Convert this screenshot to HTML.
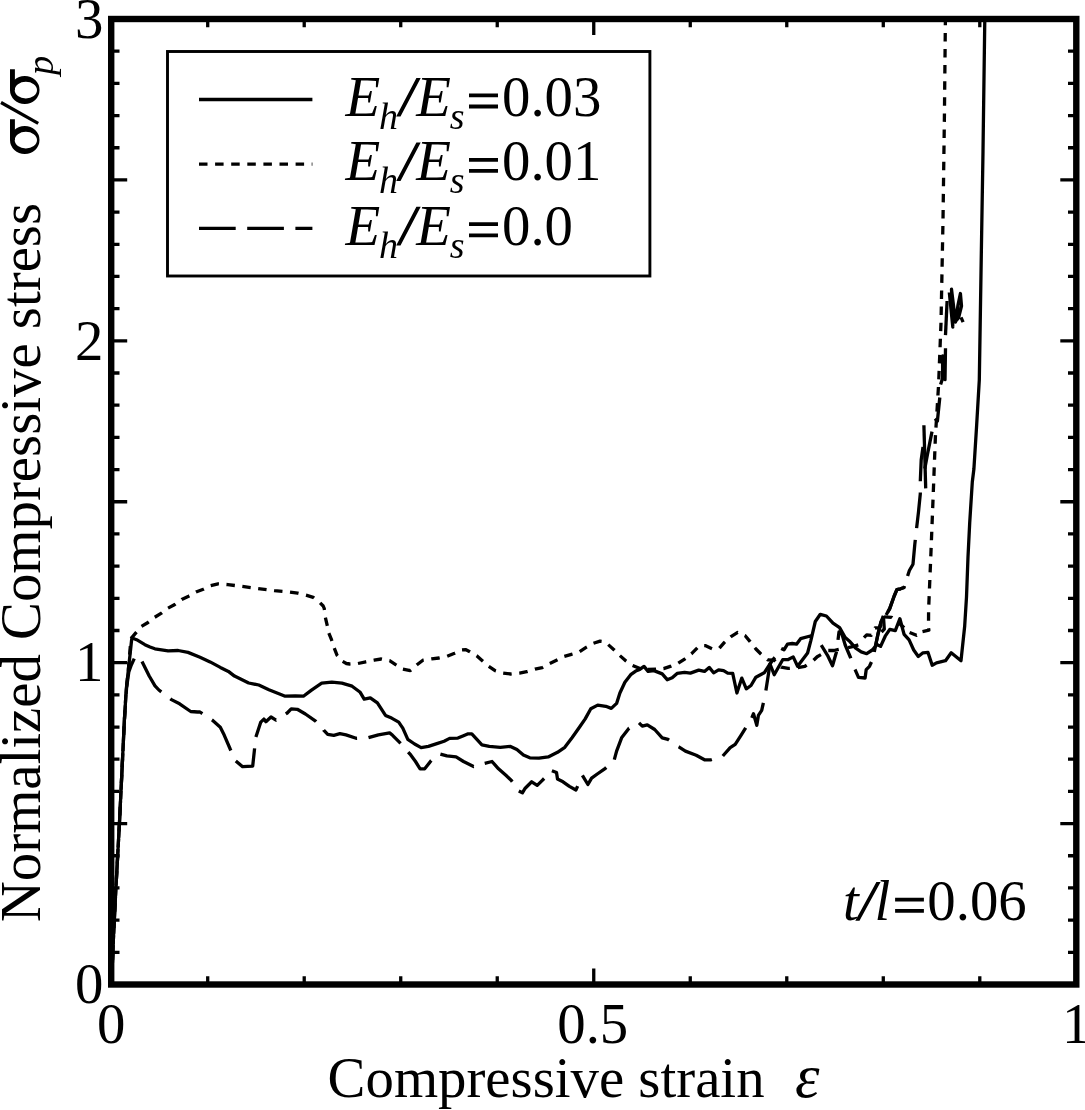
<!DOCTYPE html>
<html><head><meta charset="utf-8">
<style>
html,body{margin:0;padding:0;background:#fff;}
svg{display:block;will-change:transform;}
text{font-family:"Liberation Serif",serif;fill:#000;}
.i{font-style:italic;}
</style></head><body>
<svg width="1085" height="1110" viewBox="0 0 1085 1110">
<defs><clipPath id="c"><rect x="111.2" y="19.0" width="965.0999999999999" height="965.5"/></clipPath></defs>
<rect width="1085" height="1110" fill="#fff"/>
<g clip-path="url(#c)" fill="none" stroke="#000" stroke-width="3.3" stroke-linejoin="round">
<polyline points="111.5,984.5 113.4,939.0 115.8,890.0 119.5,822.0 124.4,720.0 126.2,690.0 128.4,669.5 130.0,655.0 131.6,640.0 132.0,638.0 136.6,639.7 144.9,644.7 150.0,647.0 154.9,648.8 168.1,650.8 178.1,650.5 188.0,652.4 200.0,657.2 210.1,661.9 220.3,667.4 228.4,671.4 234.5,676.1 248.7,683.0 258.8,685.0 268.9,689.7 285.2,696.2 295.3,695.8 303.4,696.2 311.5,690.1 321.7,683.2 331.8,682.2 341.9,683.2 352.1,686.2 360.2,692.3 364.2,699.2 370.3,697.8 377.4,702.9 385.5,715.4 391.6,718.1 398.7,722.1 402.8,728.2 407.8,739.4 414.6,744.0 421.1,747.6 428.4,746.4 437.6,743.4 444.1,741.2 449.6,738.4 457.9,738.1 463.5,735.7 468.1,733.8 471.8,733.8 476.4,738.8 481.9,744.9 489.3,746.4 500.3,747.3 510.5,746.4 516.9,749.5 523.4,755.0 529.8,757.8 539.0,758.2 548.2,756.9 557.5,752.3 564.8,747.3 572.2,737.5 579.6,727.0 585.2,718.9 590.8,708.7 597.7,705.1 605.8,706.3 611.3,708.4 616.6,703.4 619.9,693.0 624.9,682.2 630.7,674.7 635.7,671.1 639.8,669.4 644.0,666.4 648.1,671.4 653.9,670.6 662.2,673.9 667.2,679.7 672.2,677.7 677.1,673.4 684.6,672.3 690.4,673.1 698.7,670.1 704.5,671.4 709.2,667.4 713.6,672.8 718.6,669.8 723.6,670.6 727.7,673.1 732.7,673.4 736.9,693.0 741.8,678.1 746.3,688.8 751.0,685.5 755.9,677.2 764.2,672.8 770.0,664.0 774.2,674.7 782.7,659.7 788.2,659.5 793.2,656.9 797.6,666.3 807.6,653.0 810.9,640.3 815.3,621.5 820.3,614.3 826.4,616.0 833.0,623.2 839.6,627.6 845.2,637.6 850.1,641.8 855.7,648.2 861.2,651.9 866.7,653.7 872.3,650.0 876.9,644.5 880.6,646.4 885.2,636.2 889.8,629.3 895.3,630.7 899.9,618.7 904.1,634.4 909.1,639.9 913.7,650.0 918.3,656.5 923.0,652.8 928.0,652.4 932.2,665.3 936.5,662.9 945.5,660.7 951.2,652.8 961.0,660.7 964.7,626.0 966.5,597.0 968.0,557.0 969.7,522.8 972.3,482.0 973.9,469.0 976.6,426.0 979.3,380.0 981.3,254.5 983.0,151.8 984.8,19.0 985.0,0.0"/>
<polyline points="111.5,984.5 113.4,939.0 115.8,890.0 119.5,822.0 124.4,720.0 126.2,690.0 128.4,669.5 130.0,650.0 131.0,638.6" stroke-dasharray="8.5 7.6" stroke-dashoffset="7.70"/>
<polyline points="131.0,638.6 135.6,633.1 141.1,626.6 148.0,622.5 154.5,617.4 161.4,613.2 167.9,608.2 174.8,604.5 181.7,599.4 188.6,596.2 196.0,592.0 203.3,589.3 210.7,585.6" stroke-dasharray="8.52 7.62"/>
<polyline points="210.7,585.6 218.1,583.8 227.9,584.6 241.1,586.3 257.7,588.6 274.3,590.7 290.0,592.1" stroke-dasharray="8.45 7.55"/>
<polyline points="290.0,592.1 297.7,593.2 306.0,595.2 313.2,597.4 319.9,602.6 323.2,606.0 324.3,608.7 325.4,617.6" stroke-dasharray="8.61 7.70"/>
<polyline points="325.4,617.6 327.1,624.8 328.7,632.8 331.5,639.7 334.2,648.0 337.0,655.2 342.5,661.3 346.4,663.5 349.7,664.0 358.0,663.5" stroke-dasharray="8.42 7.53"/>
<polyline points="358.0,663.5 365.8,661.8 374.1,660.2 381.3,659.0 389.6,660.7 395.6,664.6 402.9,669.1" stroke-dasharray="8.44 7.54"/>
<polyline points="402.9,669.1 410.3,670.6 417.0,664.7 422.9,660.2 431.7,658.8 439.1,658.0 447.2,656.3" stroke-dasharray="8.54 7.64"/>
<polyline points="447.2,656.3 454.6,653.3 461.9,649.9 465.5,649.6 469.3,651.4 476.7,655.8 482.6,661.0 488.5,666.1 495.1,670.6 503.2,673.1" stroke-dasharray="8.53 7.62"/>
<polyline points="503.2,673.1 510.6,674.0 519.5,673.1 526.8,671.7 535.0,669.1 542.3,667.6 549.7,663.4 549.8,663.4" stroke-dasharray="8.53 7.62"/>
<polyline points="549.8,663.4 556.5,660.2 564.0,656.5 571.4,654.3 578.8,652.1 586.1,647.4 593.5,643.3" stroke-dasharray="8.52 7.62"/>
<polyline points="593.5,643.3 600.1,641.1 603.5,641.5 607.5,644.0 614.2,649.9 619.3,655.1 626.0,661.0 632.6,665.4" stroke-dasharray="8.48 7.58"/>
<polyline points="632.6,665.4 640.0,668.6 648.0,669.5 656.0,669.2 663.6,668.6 671.0,666.1 678.3,663.2" stroke-dasharray="8.34 7.46"/>
<polyline points="678.3,663.2 685.0,658.8 691.6,653.6 697.5,647.7 701.0,645.5 705.2,645.6 712.8,649.0 719.4,648.2 719.4,648.2" stroke-dasharray="8.47 7.57"/>
<polyline points="719.4,648.2 724.4,642.4 731.0,636.6 737.7,632.4 745.2,635.8 750.1,641.6 754.9,647.8" stroke-dasharray="8.44 7.55"/>
<polyline points="754.9,647.8 755.9,649.0 760.9,654.0 767.6,659.8 774.2,660.2 781.2,667.1 788.2,668.4 797.8,667.7" stroke-dasharray="8.92 7.98"/>
<polyline points="797.8,667.7 804.8,666.4 813.0,660.8 817.2,656.7 828.3,650.5" stroke-dasharray="9.41 8.41"/>
<polyline points="828.3,650.5 833.8,650.5 840.0,649.1 853.8,646.4 859.4,644.5 864.0,637.6" stroke-dasharray="10.59 9.47"/>
<polyline points="864.0,637.6 866.7,634.8 871.3,635.3 875.0,627.9 879.6,627.9 884.2,616.9" stroke-dasharray="8.79 7.86"/>
<polyline points="884.2,616.9 891.6,617.3 900.0,624.0 909.6,632.5" stroke-dasharray="8.18 7.31"/>
<polyline points="909.6,632.5 916.5,635.3 922.5,631.6" stroke-dasharray="7.65 6.84"/>
<polyline points="922.5,631.6 928.9,630.2 928.5,627.9 928.6,610.0 930.9,553.8 933.1,497.5 935.4,436.8 938.6,384.5 941.0,322.9 943.0,220.3 944.4,117.6 945.4,19.0 945.5,0.0" stroke-dasharray="8.5 7.6"/>
<polyline points="111.5,984.5 113.4,939.0 115.8,890.0 119.5,822.0 124.4,720.0 126.6,687.6 128.8,672.0 131.3,665.0 135.5,656.0 141.9,661.4 142.0,661.6" stroke-dasharray="36.5 11.5" stroke-dashoffset="45.04"/>
<polyline points="142.0,661.6 149.2,676.0 155.0,685.8 158.9,690.0 170.4,698.8" stroke-dasharray="36.28 11.43"/>
<polyline points="170.4,698.8 171.4,699.6 179.6,703.8 190.7,711.5 197.6,712.0 200.0,712.0 211.9,719.9" stroke-dasharray="36.18 11.40"/>
<polyline points="211.9,719.9 212.2,720.1 220.3,727.2 224.3,735.3 230.4,749.5 235.5,760.6 235.8,760.9" stroke-dasharray="36.73 11.57"/>
<polyline points="235.8,760.9 242.6,766.7 252.7,766.1 255.8,737.3 255.9,736.9" stroke-dasharray="36.86 11.61"/>
<polyline points="255.9,736.9 260.8,722.1 263.9,719.1 265.9,721.7 271.0,717.0 276.0,720.1 285.8,713.9" stroke-dasharray="36.14 11.39"/>
<polyline points="285.8,713.9 287.2,713.0 291.2,708.9 297.3,709.3 305.4,714.0 315.6,721.1 323.6,730.0" stroke-dasharray="35.98 11.33"/>
<polyline points="323.6,730.0 323.7,730.2 327.7,734.3 333.8,735.3 339.9,733.7 346.0,734.9 356.1,738.3 368.3,737.7 368.5,737.7" stroke-dasharray="36.28 11.43"/>
<polyline points="368.5,737.7 378.4,734.9 389.6,732.9 392.6,735.3 400.7,743.4 408.2,752.1" stroke-dasharray="36.84 11.61"/>
<polyline points="408.2,752.1 410.0,754.1 415.5,761.5 420.1,768.8 424.7,768.8 431.2,760.6 440.4,754.1" stroke-dasharray="35.64 11.23"/>
<polyline points="440.4,754.1 446.9,755.9 456.1,756.9 463.5,761.5 473.6,766.5 484.7,763.3" stroke-dasharray="36.15 11.39"/>
<polyline points="484.7,763.3 492.0,761.5 498.5,768.8 505.9,775.3 511.4,780.5 518.8,791.0" stroke-dasharray="36.16 11.39"/>
<polyline points="518.8,791.0 522.4,792.8 525.2,788.2 531.7,781.8 537.2,785.4 541.8,780.8 551.9,770.7" stroke-dasharray="34.90 11.00"/>
<polyline points="551.9,770.7 556.5,772.5 557.5,779.0 563.0,781.8 569.4,786.4 575.9,790.0 582.4,775.3" stroke-dasharray="37.32 11.76"/>
<polyline points="582.4,775.3 587.9,784.5 591.6,778.1 598.0,773.5 605.4,768.3 614.1,760.2 614.3,759.6" stroke-dasharray="36.19 11.40"/>
<polyline points="614.3,759.6 616.6,751.1 621.6,737.8 629.0,728.2 639.0,722.9" stroke-dasharray="35.30 11.12"/>
<polyline points="639.0,722.9 642.3,726.2 647.3,724.8 654.7,729.5 662.2,737.8 668.0,739.4 678.6,746.8" stroke-dasharray="37.08 11.68"/>
<polyline points="678.6,746.8 678.8,746.9 685.4,751.1 696.2,755.2 704.5,759.8 711.1,759.8 722.8,756.0" stroke-dasharray="36.49 11.50"/>
<polyline points="722.8,756.0 730.2,747.7 735.2,744.4 741.0,735.3 745.2,728.7 751.8,717.9" stroke-dasharray="36.79 11.59"/>
<polyline points="751.8,717.9 753.5,713.7 756.8,725.3 758.4,715.4 761.7,710.4 763.4,702.9 765.9,690.5" stroke-dasharray="40.26 12.69"/>
<polyline points="765.9,690.5 770.0,664.0 773.4,659.0 777.0,655.0 781.2,648.4" stroke-dasharray="35.03 11.04"/>
<polyline points="781.2,648.4 784.0,649.8 787.5,644.2 792.3,643.5 796.5,644.2 800.6,638.7 810.3,636.0 815.0,639.0 820.3,643.6 827.5,655.3 832.5,665.8 836.3,652.5 838.0,640.0 839.0,632.0 841.3,632.0 845.2,645.0 850.7,658.0 855.0,669.4" stroke-dasharray="38.14 12.02"/>
<polyline points="855.0,669.4 855.1,669.6 858.5,677.4 865.1,678.0 866.2,669.6 869.5,666.3 872.8,659.1 875.5,646.0 878.0,634.0 881.0,622.0 883.4,615.9 886.1,615.0 889.7,608.6 894.2,596.0 896.9,589.7 900.5,588.8 904.1,587.5 907.6,575.9" stroke-dasharray="33.20 10.46"/>
<polyline points="907.6,575.9 909.4,570.5 913.0,564.2 914.8,544.3 916.6,528.1" stroke-dasharray="37.43 11.79"/>
<polyline points="916.6,528.1 918.5,511.9 920.3,493.8 920.3,481.2" stroke-dasharray="35.82 11.28"/>
<polyline points="920.3,481.2 921.2,460.0 923.0,446.9" stroke-dasharray="36.5 11.5"/>
<polyline points="949.3,292.4 952.8,327.0 951.5,289.2 955.5,322.0 958.0,305.0 960.4,293.5 961.5,306.0 958.5,318.0 955.0,322.0"/>
<polyline points="875.5,646.0 878.0,634.0 881.0,622.0 883.4,615.9"/><polyline points="883.4,615.9 884.3,629.0 881.5,632.0"/><polyline points="886.1,615.0 889.7,608.6 894.2,596.0 896.9,589.7 900.5,588.8 904.1,587.5"/><polyline points="923.9,425.3 925.7,488.4"/><polyline points="932.0,431.6 927.5,454.1 924.8,468.6"/><polyline points="935.0,418.6 937.4,421.0 939.8,397.5"/><polyline points="940.6,384.6 942.6,378.3 942.6,355.8 945.0,379.6 945.5,348.3"/><polyline points="945.5,335.1 947.1,301.0"/><polyline points="961.0,317.3 963.1,322.2"/>
</g>
<path d="M207.71,984.50V976.20M207.71,19.00V27.30M304.22,984.50V976.20M304.22,19.00V27.30M400.73,984.50V976.20M400.73,19.00V27.30M497.24,984.50V976.20M497.24,19.00V27.30M593.75,984.50V968.50M593.75,19.00V35.00M690.26,984.50V976.20M690.26,19.00V27.30M786.77,984.50V976.20M786.77,19.00V27.30M883.28,984.50V976.20M883.28,19.00V27.30M979.79,984.50V976.20M979.79,19.00V27.30M111.20,952.32H119.50M1076.30,952.32H1068.00M111.20,920.13H119.50M1076.30,920.13H1068.00M111.20,887.95H119.50M1076.30,887.95H1068.00M111.20,855.77H119.50M1076.30,855.77H1068.00M111.20,823.58H127.20M1076.30,823.58H1060.30M111.20,791.40H119.50M1076.30,791.40H1068.00M111.20,759.22H119.50M1076.30,759.22H1068.00M111.20,727.03H119.50M1076.30,727.03H1068.00M111.20,694.85H119.50M1076.30,694.85H1068.00M111.20,662.67H127.20M1076.30,662.67H1060.30M111.20,630.48H119.50M1076.30,630.48H1068.00M111.20,598.30H119.50M1076.30,598.30H1068.00M111.20,566.12H119.50M1076.30,566.12H1068.00M111.20,533.93H119.50M1076.30,533.93H1068.00M111.20,501.75H127.20M1076.30,501.75H1060.30M111.20,469.57H119.50M1076.30,469.57H1068.00M111.20,437.38H119.50M1076.30,437.38H1068.00M111.20,405.20H119.50M1076.30,405.20H1068.00M111.20,373.02H119.50M1076.30,373.02H1068.00M111.20,340.83H127.20M1076.30,340.83H1060.30M111.20,308.65H119.50M1076.30,308.65H1068.00M111.20,276.47H119.50M1076.30,276.47H1068.00M111.20,244.28H119.50M1076.30,244.28H1068.00M111.20,212.10H119.50M1076.30,212.10H1068.00M111.20,179.92H127.20M1076.30,179.92H1060.30M111.20,147.73H119.50M1076.30,147.73H1068.00M111.20,115.55H119.50M1076.30,115.55H1068.00M111.20,83.37H119.50M1076.30,83.37H1068.00M111.20,51.18H119.50M1076.30,51.18H1068.00" stroke="#000" stroke-width="3.3" fill="none"/>
<rect x="111.2" y="19.0" width="965.0999999999999" height="965.5" fill="none" stroke="#000" stroke-width="6.4"/>
<rect x="167.5" y="51.5" width="482.4" height="224.5" fill="#fff" stroke="#000" stroke-width="2.9"/>
<g stroke="#000" stroke-width="3.3" fill="none">
<path d="M199,99.5H312.4"/>
<path d="M199,164.2H312.4" stroke-dasharray="8.5 7.6"/>
<path d="M199,228.3H312.4" stroke-dasharray="36.7 11.5"/>
</g>
<text font-size="56.8"><tspan class="i" x="345.4" y="116.0">E</tspan><tspan class="i" font-size="38" x="379" y="129.0">h</tspan><tspan class="i" x="416.2" y="116.0">E</tspan><tspan class="i" font-size="38" x="449.8" y="129.0">s</tspan><tspan x="502" y="116.0">0.03</tspan></text>
<path d="M469,93.5h29v3.8h-29zM469,104.6h29v3.8h-29zM416.4,78.0L420.7,78.0L400.5,116.6L396.2,116.6Z" fill="#000"/>
<text font-size="56.8"><tspan class="i" x="345.4" y="180.4">E</tspan><tspan class="i" font-size="38" x="379" y="193.4">h</tspan><tspan class="i" x="416.2" y="180.4">E</tspan><tspan class="i" font-size="38" x="449.8" y="193.4">s</tspan><tspan x="502" y="180.4">0.01</tspan></text>
<path d="M469,157.9h29v3.8h-29zM469,169.0h29v3.8h-29zM416.4,142.4L420.7,142.4L400.5,181.0L396.2,181.0Z" fill="#000"/>
<text font-size="56.8"><tspan class="i" x="345.4" y="244.8">E</tspan><tspan class="i" font-size="38" x="379" y="257.8">h</tspan><tspan class="i" x="416.2" y="244.8">E</tspan><tspan class="i" font-size="38" x="449.8" y="257.8">s</tspan><tspan x="502" y="244.8">0.0</tspan></text>
<path d="M469,222.3h29v3.8h-29zM469,233.4h29v3.8h-29zM416.4,206.8L420.7,206.8L400.5,245.4L396.2,245.4Z" fill="#000"/>
<text font-size="56.8" text-anchor="end"><tspan x="103.4" y="37.7">3</tspan><tspan x="103.4" y="359.53333333333336">2</tspan><tspan x="103.4" y="681.3666666666668">1</tspan><tspan x="103.4" y="1003.2">0</tspan></text>
<text font-size="56.8" text-anchor="middle"><tspan x="111.2" y="1043">0</tspan><tspan x="592.75" y="1043">0.5</tspan><tspan x="1076.3" y="1043">1</tspan></text>
<text font-size="56.8" x="327.6" y="1096.8">Compressive strain</text>
<text font-size="62" class="i" x="795" y="1096.8">ε</text>
<text font-size="56.8" y="920.3"><tspan class="i" x="843">t</tspan><tspan class="i" x="874.5">l</tspan><tspan x="927.3">0.06</tspan></text>
<path d="M895.1,897.8h28.8v3.8h-28.8zM895.1,908.9h28.8v3.8h-28.8zM876.4,882L880.6,882L859.5,920.7L855.3,920.7Z" fill="#000"/>
<g transform="translate(39.5,920.2) rotate(-90)">
<text font-size="56.8" x="-2" y="0">Normalized Compressive stress</text>
<path d="M766.10,-14.75a14.05,14.75 0 1,0 28.1,0a14.05,14.75 0 1,0 -28.1,0ZM771.70,-13.65a8.4,11.15 0 1,0 16.8,0a8.4,11.15 0 1,0 -16.8,0ZM816.10,-14.75a14.05,14.75 0 1,0 28.1,0a14.05,14.75 0 1,0 -28.1,0ZM821.70,-13.65a8.4,11.15 0 1,0 16.8,0a8.4,11.15 0 1,0 -16.8,0Z" fill="#000" fill-rule="evenodd"/>
<path d="M780.10,-29.5H800.90V-24.6H780.10ZM830.10,-29.5H850.90V-24.6H830.10Z" fill="#000"/>
<path d="M796.8,-1.3L817.7,-38.5" stroke="#000" stroke-width="3.2"/>
<text font-size="38.5" class="i" x="845.3" y="13">p</text>
</g>
</svg>
</body></html>
